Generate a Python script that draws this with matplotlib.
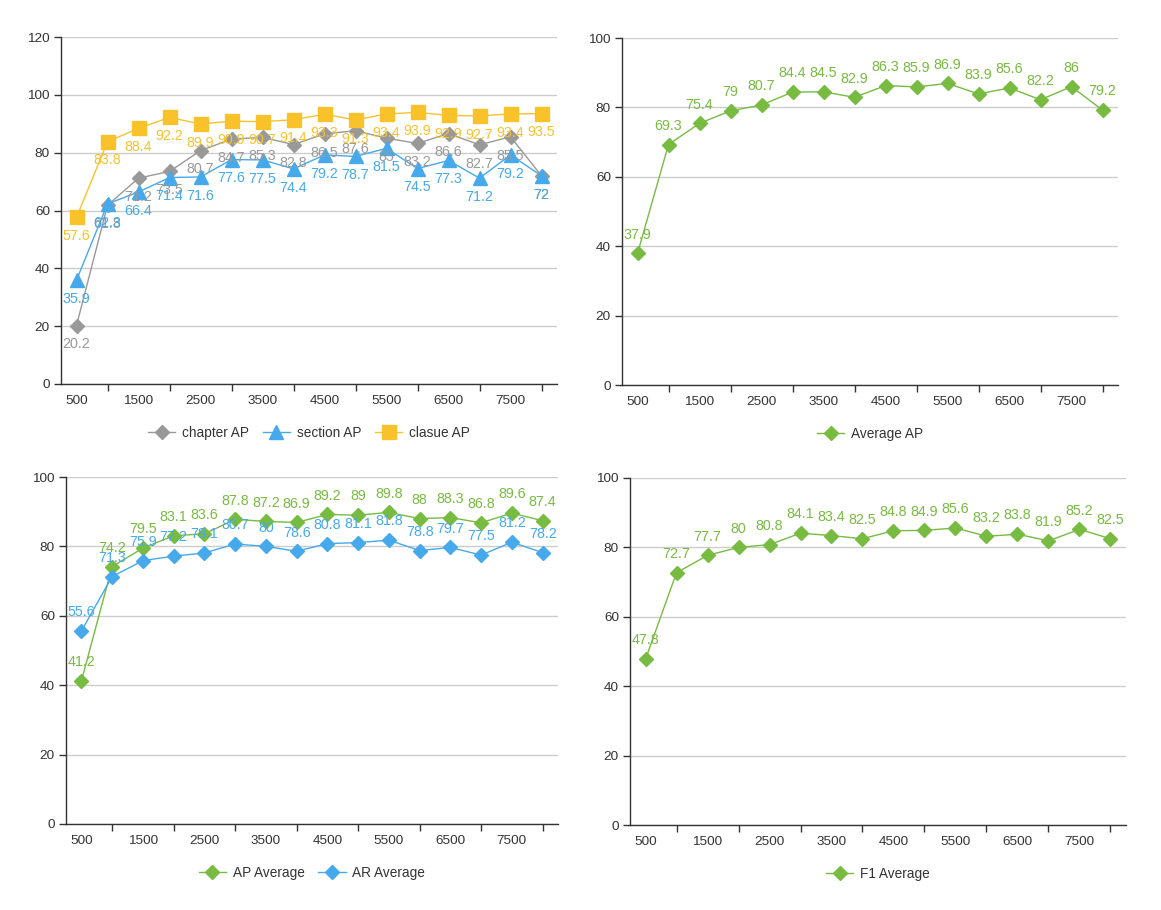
import numpy as np
import matplotlib
matplotlib.use('Agg')
import matplotlib.pyplot as plt
from matplotlib.ticker import FixedLocator, NullFormatter, FixedFormatter

plt.rcParams['font.family'] = ['Liberation Sans', 'DejaVu Sans']

# data
steps = [500, 1000, 1500, 2000, 2500, 3000, 3500, 4000,
         4500, 5000, 5500, 6000, 6500, 7000, 7500, 8000]

chapter_ap = [20.2, 61.8, 71.2, 73.5, 80.7, 84.7, 85.3, 82.8,
              86.5, 87.6, 85, 83.2, 86.6, 82.7, 85.5, 72]
section_ap = [35.9, 62.3, 66.4, 71.4, 71.6, 77.6, 77.5, 74.4,
              79.2, 78.7, 81.5, 74.5, 77.3, 71.2, 79.2, 72]
clause_ap = [57.6, 83.8, 88.4, 92.2, 89.9, 90.9, 90.7, 91.4,
             93.3, 91.3, 93.4, 93.9, 92.9, 92.7, 93.4, 93.5]

average_ap = [37.9, 69.3, 75.4, 79, 80.7, 84.4, 84.5, 82.9,
              86.3, 85.9, 86.9, 83.9, 85.6, 82.2, 86, 79.2]

ap_average = [41.2, 74.2, 79.5, 83.1, 83.6, 87.8, 87.2, 86.9,
              89.2, 89, 89.8, 88, 88.3, 86.8, 89.6, 87.4]
ar_average = [55.6, 71.3, 75.9, 77.2, 78.1, 80.7, 80, 78.6,
              80.8, 81.1, 81.8, 78.8, 79.7, 77.5, 81.2, 78.2]

f1_average = [47.8, 72.7, 77.7, 80, 80.8, 84.1, 83.4, 82.5,
              84.8, 84.9, 85.6, 83.2, 83.8, 81.9, 85.2, 82.5]

GREY = '#999999'
BLUE = '#45a9ec'
YELLOW = '#f9c22b'
GREEN = '#77bb41'
TEXT = '#333333'
W, H = 1161, 910


def fmt(v):
    s = ('%.1f' % v)
    if s.endswith('.0'):
        s = s[:-2]
    return s


def setup_axes(fig, box, ymax):
    # box in pixels: left, right, top(ymax), bottom(0)
    l, r, t, b = box
    ax = fig.add_axes([l / W, 1 - b / H, (r - l) / W, (b - t) / H])
    n = len(steps)
    x = np.arange(n)
    ax.set_xlim(-0.5, n - 0.5)
    ax.set_ylim(0, ymax)
    ax.set_yticks(np.arange(0, ymax + 1, 20))
    ax.yaxis.grid(True, color='#cccccc', linewidth=1)
    ax.set_axisbelow(True)
    for s in ['top', 'right']:
        ax.spines[s].set_visible(False)
    for s in ['left', 'bottom']:
        ax.spines[s].set_color(TEXT)
        ax.spines[s].set_linewidth(1)
    # tick marks between labelled categories, labels at every other category
    ax.xaxis.set_major_locator(FixedLocator(x[1::2]))
    ax.xaxis.set_major_formatter(NullFormatter())
    ax.xaxis.set_minor_locator(FixedLocator(x[0::2]))
    ax.xaxis.set_minor_formatter(FixedFormatter([str(s) for s in steps[0::2]]))
    ax.tick_params(axis='x', which='major', length=5, color=TEXT, width=1)
    ax.tick_params(axis='x', which='minor', length=0, pad=8,
                   labelsize=9.7, labelcolor=TEXT)
    ax.tick_params(axis='y', length=5, color=TEXT, width=1, pad=3,
                   labelsize=9.7, labelcolor=TEXT)
    return ax


def draw(ax, vals, color, marker, ms, label, above=True):
    x = np.arange(len(vals))
    ax.plot(x, vals, color=color, marker=marker, markersize=ms,
            linewidth=1, label=label, clip_on=False, zorder=3)
    off = 13.5 if above else -13.5
    for xi, v in zip(x, vals):
        ax.annotate(fmt(v), (xi, v), xytext=(0, off), textcoords='offset points',
                    ha='center', va='center', fontsize=10.3, color=color, zorder=4)


def legend(ax, ncol):
    ax.legend(loc='center', bbox_to_anchor=(0.5, -0.14), ncol=ncol, frameon=False,
              fontsize=9.8, handlelength=2.0, handletextpad=0.5, columnspacing=1.0,
              numpoints=1, labelcolor=TEXT)


fig = plt.figure(figsize=(W / 100, H / 100), dpi=100)

ax1 = setup_axes(fig, (61, 557, 37, 384), 120)
draw(ax1, chapter_ap, GREY, 'D', 7.3, 'chapter AP', above=False)
draw(ax1, section_ap, BLUE, '^', 10, 'section AP', above=False)
draw(ax1, clause_ap, YELLOW, 's', 9.5, 'clasue AP', above=False)
legend(ax1, 3)

ax2 = setup_axes(fig, (622, 1118, 38, 385), 100)
draw(ax2, average_ap, GREEN, 'D', 7.3, 'Average AP')
legend(ax2, 1)

ax3 = setup_axes(fig, (66, 558, 477, 824), 100)
draw(ax3, ap_average, GREEN, 'D', 7.3, 'AP Average')
draw(ax3, ar_average, BLUE, 'D', 7.3, 'AR Average')
legend(ax3, 2)

ax4 = setup_axes(fig, (630, 1126, 478, 825), 100)
draw(ax4, f1_average, GREEN, 'D', 7.3, 'F1 Average')
legend(ax4, 1)

fig.savefig('out.png', dpi=100)
